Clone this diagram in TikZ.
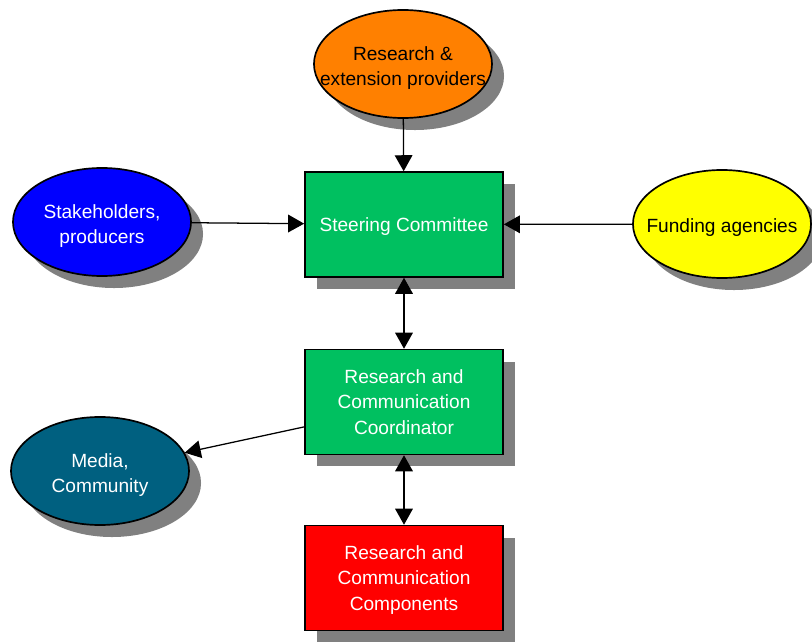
\documentclass[tikz,border=0pt]{standalone}
\usepackage{fontspec}
\setmainfont{Liberation Sans}
\usetikzlibrary{arrows.meta, positioning, shapes.geometric, shadows}
\definecolor{boxgreen}{RGB}{0,192,96}
\definecolor{provorange}{RGB}{255,128,0}
\definecolor{stakeblue}{RGB}{0,0,255}
\definecolor{fundyellow}{RGB}{255,255,0}
\definecolor{mediateal}{RGB}{0,96,128}
\definecolor{compred}{RGB}{255,0,0}
\definecolor{shadowgray}{RGB}{128,128,128}

\tikzset{
    shade/.style={drop shadow={shadow xshift=0.3cm, shadow yshift=-0.3cm, fill=shadowgray, opacity=1}},
    unit/.style={rectangle, draw=black, line width=1.2pt, shade, minimum width=4.95cm, minimum height=2.62cm,
        align=center, font=\fontsize{13.6}{18}\selectfont, text=white, text depth=0pt},
    party/.style={ellipse, draw=black, line width=1.2pt, shade, minimum width=4.45cm, minimum height=2.7cm,
        inner sep=0pt},
    partytext/.style={align=center, font=\fontsize{13.6}{18}\selectfont, text=#1, yshift=-0.1cm},
    link/.style={line width=0.9pt, -{Triangle[length=4mm, width=4.4mm]}},
    twolink/.style={line width=0.9pt, {Triangle[length=4mm, width=4.4mm]}-{Triangle[length=4mm, width=4.4mm]}}
}

\begin{document}
\begin{tikzpicture}[x=0.025cm, y=-0.025cm]
    % Fix the page to the reference size
    \useasboundingbox (0,0) rectangle (812,643);

    % Outer parties
    \node[party, fill=provorange, label={[partytext=black]center:Research \&\\extension providers}] (providers) at (403,64) {};
    \node[party, fill=stakeblue, label={[partytext=white]center:Stakeholders,\\producers}] (stakeholders) at (102,222) {};
    \node[party, fill=fundyellow, label={[partytext=black]center:Funding agencies}] (funding) at (722,224) {};
    \node[party, fill=mediateal, label={[partytext=white]center:Media,\\Community}] (media) at (100,471) {};

    % Central column
    \node[unit, fill=boxgreen] (steering) at (404,224.5) {Steering Committee};
    \node[unit, fill=boxgreen] (coordinator) at (404,402) {Research and\\Communication\\Coordinator};
    \node[unit, fill=compred] (components) at (404,578) {Research and\\Communication\\Components};

    % Connectors
    \draw[link] (providers) -- (steering);
    \draw[link] (stakeholders) -- (steering);
    \draw[link] (funding) -- (steering);
    \draw[twolink] (steering) -- (coordinator);
    \draw[link] (coordinator.194) -- (media);
    \draw[twolink] (coordinator) -- (components);
\end{tikzpicture}
\end{document}
